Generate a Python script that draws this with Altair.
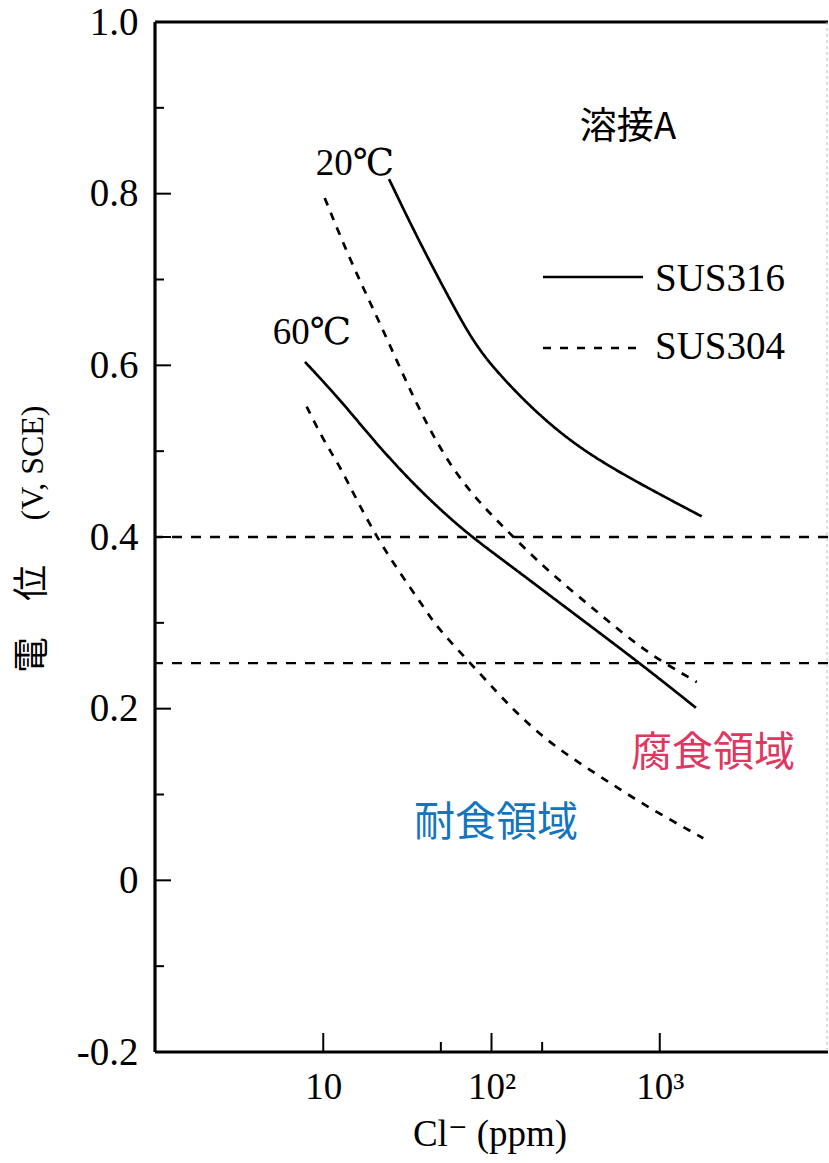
import altair as alt
import pandas as pd

# ---- data (Cl- ppm, potential V vs SCE) ----
c316_20 = [24.6, 35.9, 56.7, 81.7, 123, 194, 336, 666, 1775]
v316_20 = [0.817, 0.750, 0.676, 0.620, 0.580, 0.541, 0.503, 0.468, 0.424]
c304_20 = [10.2, 14.4, 20.8, 26.7, 34.3, 44.1, 59.3, 85.4, 129, 203, 460, 836, 1660]
v304_20 = [0.795, 0.723, 0.657, 0.610, 0.563, 0.521, 0.478, 0.439, 0.404, 0.365, 0.307, 0.265, 0.231]
c316_60 = [7.79, 12.6, 19.8, 31.3, 49.4, 76.3, 123, 280, 763, 1642]
v316_60 = [0.604, 0.560, 0.513, 0.470, 0.432, 0.400, 0.370, 0.317, 0.253, 0.201]
c304_60 = [7.97, 10.0, 12.6, 15.8, 21.2, 28.6, 40.3, 47.2, 85.4, 135, 213, 336, 530, 836, 1815]
v304_60 = [0.552, 0.513, 0.482, 0.443, 0.397, 0.358, 0.316, 0.295, 0.241, 0.198, 0.163, 0.136, 0.111, 0.086, 0.049]

ref_levels = [0.4, 0.253]
y_major = [-0.2, 0.0, 0.2, 0.4, 0.6, 0.8, 1.0]
y_minor = [-0.1, 0.1, 0.3, 0.5, 0.7, 0.9]
x_major = [10, 100, 1000]
x_minor = [50, 200]

W, H = 673, 1030
SERIF = "Liberation Serif, DejaVu Serif, serif"
CJK = "Noto Sans CJK JP, sans-serif"

rows = []
for name, mat, cs, vs in [("316_20", "SUS316", c316_20, v316_20),
                          ("304_20", "SUS304", c304_20, v304_20),
                          ("316_60", "SUS316", c316_60, v316_60),
                          ("304_60", "SUS304", c304_60, v304_60)]:
    for i, (c, v) in enumerate(zip(cs, vs)):
        rows.append({"series": name, "mat": mat, "i": i, "cl": c, "v": v})
curves_df = pd.DataFrame(rows)

xs = alt.Scale(type="log", domain=[1, 10000], nice=False)
ys = alt.Scale(domain=[-0.2, 1.0], nice=False, zero=False)

xaxis = alt.Axis(values=x_major, title=None, ticks=False, domain=False, grid=False,
                 labelFont=SERIF, labelFontSize=37, labelColor="black", labelPadding=17,
                 labelExpr="datum.value == 10 ? '10' : (datum.value == 100 ? '10²' : '10³')")
yaxis = alt.Axis(values=y_major, title=None, ticks=False, domain=False, grid=False,
                 labelFont=SERIF, labelFontSize=39, labelColor="black", labelPadding=17,
                 labelExpr="datum.value == 0 ? '0' : (datum.value < 0 ? '-' + format(-datum.value, '.1f') : format(datum.value, '.1f'))")

def X(f):
    return alt.X(f, type="quantitative", scale=xs, axis=xaxis)

def Y(f):
    return alt.Y(f, type="quantitative", scale=ys, axis=yaxis)

curves = alt.Chart(curves_df).mark_line(color="black", strokeWidth=2.7, interpolate="basis").encode(
    x=X("cl"), y=Y("v"), detail="series:N", order="i:Q",
    strokeDash=alt.StrokeDash("mat:N", scale=alt.Scale(domain=["SUS316", "SUS304"], range=[[1, 0], [8, 8]]), legend=None),
)

refs = alt.Chart(pd.DataFrame({"v": ref_levels})).mark_rule(
    color="black", strokeWidth=2.4, strokeDash=[10, 9]).encode(y=Y("v"))

ymaj = alt.Chart(pd.DataFrame({"v": y_major})).mark_rule(color="black", strokeWidth=2).encode(
    y=Y("v"), x=alt.value(0), x2=alt.value(16))
ymin = alt.Chart(pd.DataFrame({"v": y_minor})).mark_rule(color="black", strokeWidth=2).encode(
    y=Y("v"), x=alt.value(0), x2=alt.value(9))
xmaj = alt.Chart(pd.DataFrame({"c": x_major})).mark_rule(color="black", strokeWidth=2).encode(
    x=X("c"), y=alt.value(H), y2=alt.value(H - 19))
xmin = alt.Chart(pd.DataFrame({"c": x_minor})).mark_rule(color="black", strokeWidth=2).encode(
    x=X("c"), y=alt.value(H), y2=alt.value(H - 10))

dummy = pd.DataFrame({"a": [0]})
frame_left = alt.Chart(dummy).mark_rule(color="black", strokeWidth=3.2).encode(
    x=alt.value(0), y=alt.value(0), y2=alt.value(H))
frame_bottom = alt.Chart(dummy).mark_rule(color="black", strokeWidth=3.2).encode(
    y=alt.value(H), x=alt.value(0), x2=alt.value(W))
frame_top = alt.Chart(dummy).mark_rule(color="black", strokeWidth=3.2).encode(
    y=alt.value(0), x=alt.value(0), x2=alt.value(W))
frame_right = alt.Chart(dummy).mark_rule(color="#bbbbbb", strokeWidth=1, strokeDash=[3, 3]).encode(
    x=alt.value(W - 1), y=alt.value(0), y2=alt.value(H))

def txt(s, x, y, font, size, color="black", align="center", angle=0):
    kw = dict(text=s, font=font, fontSize=size, color=color, align=align, baseline="middle")
    if angle:
        kw["angle"] = angle
    return alt.Chart(dummy).mark_text(**kw).encode(x=alt.value(x), y=alt.value(y))

leg_solid = alt.Chart(dummy).mark_rule(color="black", strokeWidth=2.4).encode(
    x=alt.value(388), x2=alt.value(488), y=alt.value(255))
leg_dash = alt.Chart(dummy).mark_rule(color="black", strokeWidth=2.4, strokeDash=[8, 9]).encode(
    x=alt.value(388), x2=alt.value(484), y=alt.value(326))

texts = [
    txt("溶接A", 473, 106, CJK, 37),
    txt("20℃", 200, 142, SERIF, 37),
    txt("60℃", 157, 311, SERIF, 37),
    txt("SUS316", 500, 257, SERIF, 39, align="left"),
    txt("SUS304", 500, 325, SERIF, 39, align="left"),
    txt("腐食領域", 558, 732, CJK, 41, color="#e0365f"),
    txt("耐食領域", 341, 802, CJK, 41, color="#1375bf"),
    txt("Cl⁻ (ppm)", 335, 1113, SERIF, 37),
    txt("電　位", -122, 597, CJK, 36, angle=270),
    txt("(V, SCE)", -122, 441, SERIF, 32, angle=270),
]

chart = alt.layer(
    refs, curves, ymaj, ymin, xmaj, xmin,
    frame_left, frame_bottom, frame_top, frame_right,
    leg_solid, leg_dash, *texts,
).properties(
    width=W, height=H,
    padding={"left": 155, "top": 22, "right": 1, "bottom": 111},
    autosize=alt.AutoSizeParams(type="none"),
    background="white",
).configure_view(stroke=None)

chart.save("out.html", embed_options={"renderer": "svg", "actions": False})
